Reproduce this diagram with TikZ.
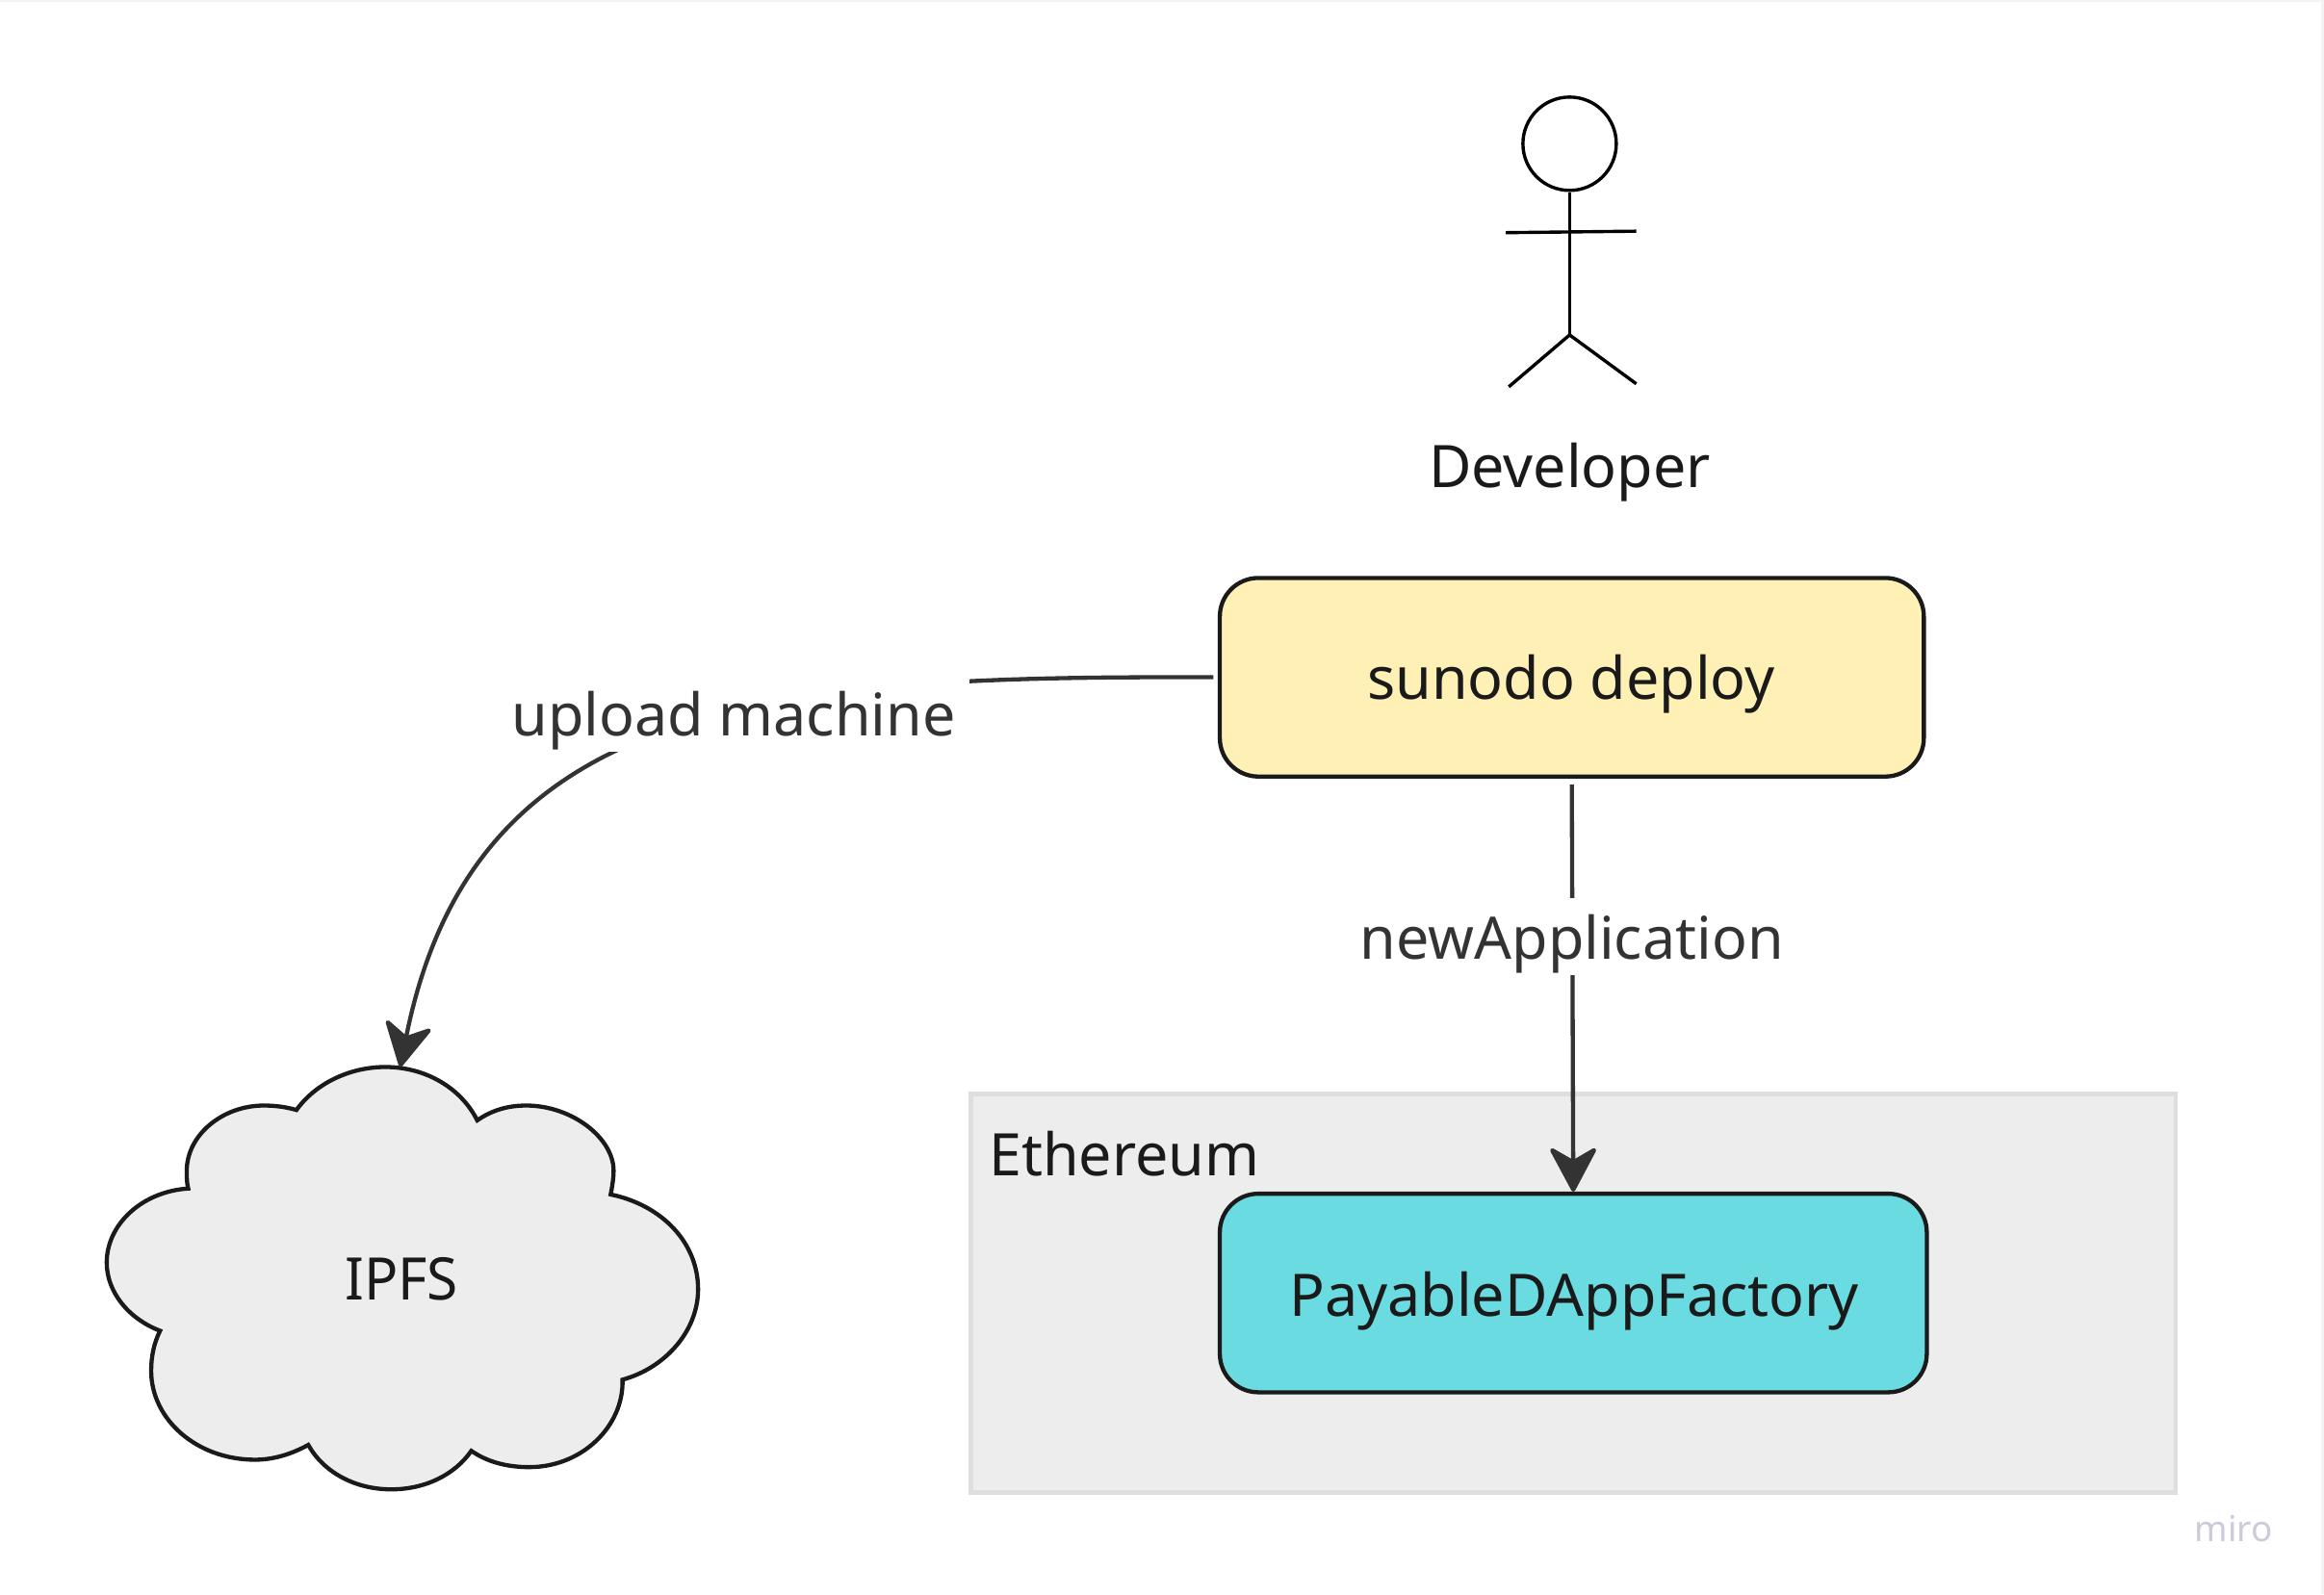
\documentclass[tikz,border=0pt]{standalone}
\usepackage{fontspec}
\setmainfont{Noto Sans}
\usetikzlibrary{arrows.meta,shapes.geometric}
\definecolor{greyfill}{HTML}{EDEDED}
\definecolor{greyline}{HTML}{DEDEDE}
\definecolor{inkdark}{HTML}{1A1A1A}
\definecolor{edgeink}{HTML}{333333}
\definecolor{yellowfill}{HTML}{FFF0B6}
\definecolor{cyanfill}{HTML}{6ADBE0}
\definecolor{miroink}{HTML}{CBCBDB}
\definecolor{pageedge}{HTML}{F4F4F4}
\tikzset{
  x=1pt,y=-1pt,
  txt/.style={font=\fontsize{39.6}{47}\selectfont,text=inkdark,inner sep=0pt},
  edgetxt/.style={font=\fontsize{39.6}{47}\selectfont,text=edgeink,inner sep=0pt},
  edgegap/.style={fill=white,inner sep=0pt},
  procbox/.style={draw=inkdark,line width=2.8pt,rounded corners=26pt,inner sep=0pt},
  conn/.style={draw=edgeink,line width=2.8pt,-{Stealth[length=33pt,width=35pt,inset=10pt,round]}},
  actorline/.style={draw=black,line width=2.2pt},
}
\begin{document}
\begin{tikzpicture}
\useasboundingbox (0,0) rectangle (1568,1075.7);
\fill[white] (0,0) rectangle (1568,1075.7);
\fill[pageedge] (0,0) rectangle (1568,1.2);
\fill[pageedge] (1566,0) rectangle (1568,1075.7);
% Ethereum container
\node[draw=greyline,fill=greyfill,line width=3pt,minimum width=813pt,minimum height=269pt,inner sep=0pt] (eth) at (1061.5,872.5) {};
\node[txt,anchor=base west] (ethlabel) at (667,793.5) {Ethereum};
% cloud
\draw[fill=greyfill,draw=inkdark,line width=2.8pt,line join=miter]
 (200,749)
 .. controls (213,731) and (236,720) .. (260,720)
 .. controls (287,720) and (311,734) .. (322,756)
 .. controls (332,749) and (343,746) .. (355,746)
 .. controls (386,746) and (414,768) .. (414,790)
 .. controls (414,795) and (413,801) .. (412,806)
 .. controls (446,813) and (471,838) .. (471,870)
 .. controls (471,898) and (449,923) .. (420,931)
 .. controls (421,962) and (393,990) .. (357,990)
 .. controls (341,990) and (328,986) .. (318,979)
 .. controls (307,995) and (287,1005) .. (264,1005)
 .. controls (239,1005) and (218,993) .. (208,975)
 .. controls (197,981) and (185,985) .. (172,985)
 .. controls (133,985) and (102,958) .. (102,925)
 .. controls (102,915) and (104,906) .. (108,898)
 .. controls (87,890) and (72,872) .. (72,852)
 .. controls (72,826) and (96,804) .. (127,802)
 .. controls (126,798) and (126,795) .. (126,790)
 .. controls (126,766) and (150,746) .. (178,746)
 .. controls (186,746) and (193,747) .. (200,749)
 -- cycle;
\node[txt,anchor=base,xscale=0.96] (ipfs) at (271,877.5) {IPFS};
\coordinate (cloudtop) at (270,720);
% process boxes
\node[procbox,fill=yellowfill,minimum width=475pt,minimum height=134pt] (sunodo) at (1060.5,457) {};
\node[txt,anchor=base] (sunodolabel) at (1060,472) {sunodo deploy};
\node[procbox,fill=cyanfill,minimum width=477pt,minimum height=134pt] (factory) at (1061.5,872.5) {};
\node[txt,anchor=base] (factorylabel) at (1062,888) {PayableDAppFactory};
% connectors
\draw[conn] (sunodo.west) ++(-3,0) coordinate (s1) .. controls (520,456) and (320,470) .. (cloudtop);
\draw[conn] (sunodo.south) ++(0,4) coordinate (s2) -- (factory.north);
% edge labels with the gap they cut in their connectors
\node[edgegap,minimum width=317pt,minimum height=54pt] (upgap) at (495.5,480) {};
\node[edgetxt,anchor=base] (uptext) at (495,496.5) {upload machine};
\node[edgegap,minimum width=296pt,minimum height=52pt] (newgap) at (1060,632) {};
\node[edgetxt,anchor=base] (newapp) at (1060.5,647) {newApplication};
% actor
\node[draw=black,line width=2.2pt,circle,minimum size=63pt,inner sep=0pt] (head) at (1059,97) {};
\coordinate (hip) at (1059,226);
\coordinate (armL) at (1016,157);
\coordinate (armR) at (1104,156);
\coordinate (legL) at (1018,261);
\coordinate (legR) at (1104,259);
\draw[actorline] (head.south) -- (hip);
\draw[actorline] (armL) -- (armR);
\draw[actorline] (legL) -- (hip) -- (legR);
\node[txt,anchor=base] (dev) at (1059,329) {Developer};
% watermark
\node[font=\fontsize{24}{28}\selectfont,text=miroink,inner sep=0pt,anchor=base] (miro) at (1507,1040) {miro};
\end{tikzpicture}
\end{document}
